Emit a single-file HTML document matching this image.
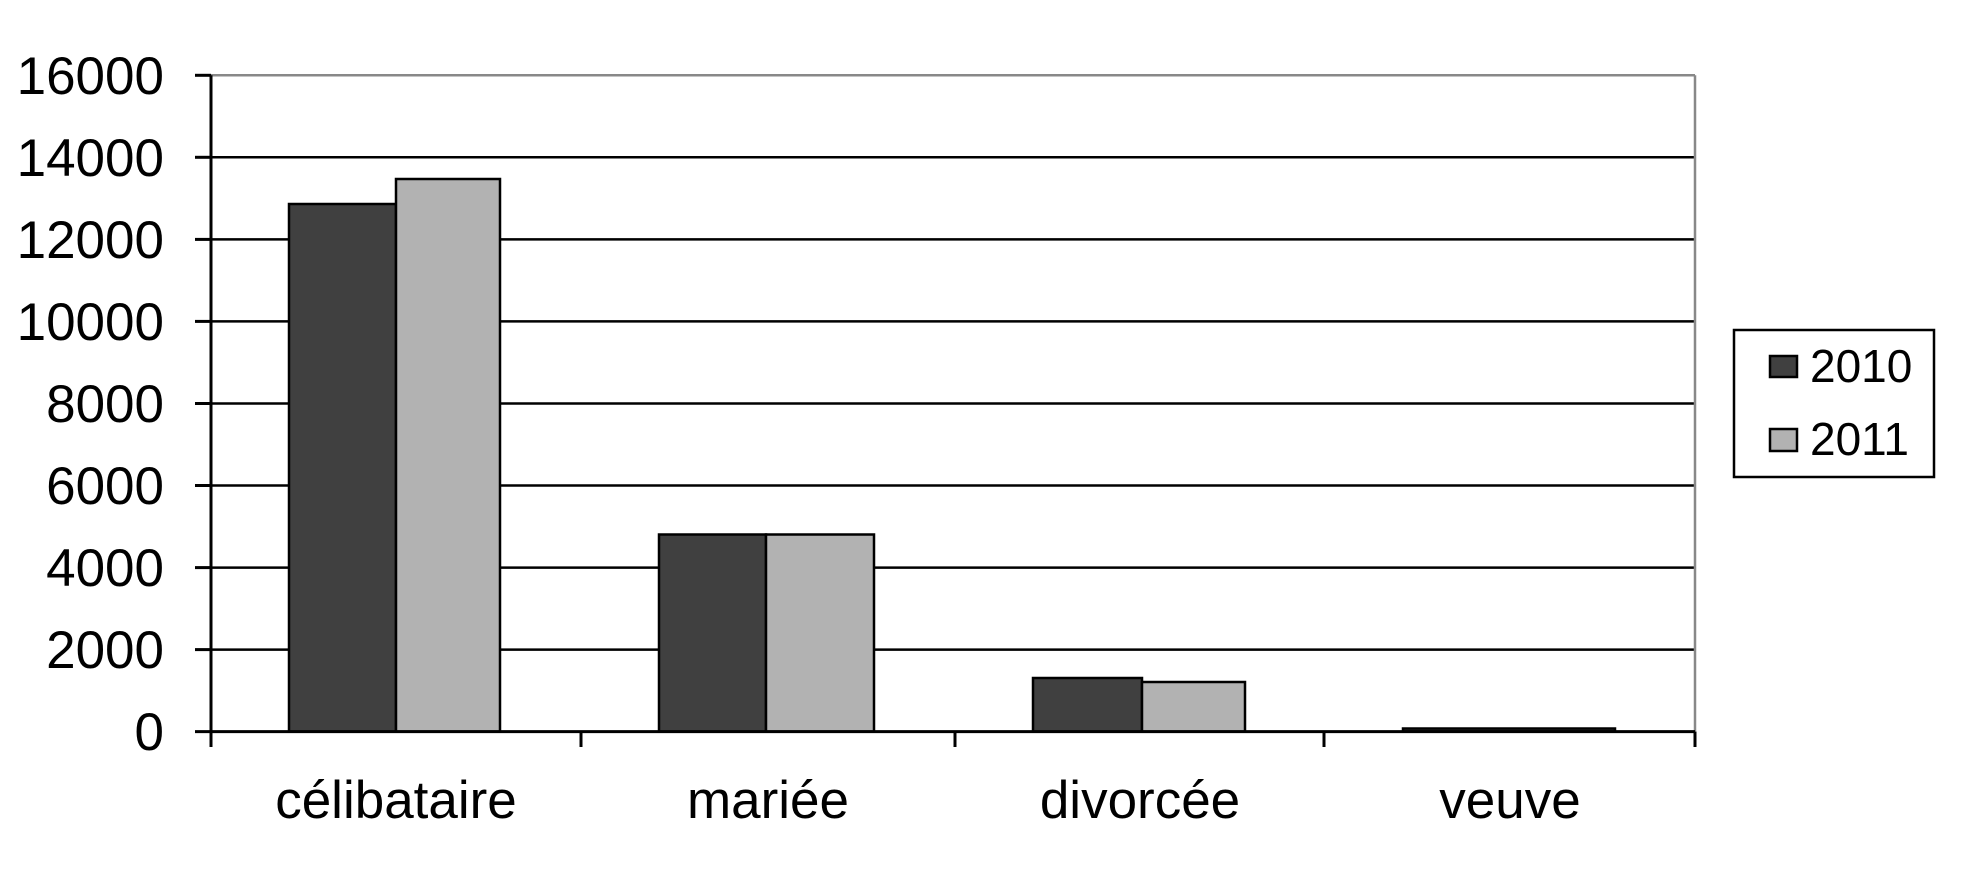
<!DOCTYPE html>
<html><head><style>body{margin:0;background:#fff}svg{display:block}</style></head><body>
<svg width="1962" height="888" xmlns="http://www.w3.org/2000/svg" font-family="Liberation Sans, Arial, sans-serif">
<rect width="1962" height="888" fill="#fff"/>
<g stroke="#000" stroke-width="2.5">
<line x1="211" y1="157.3" x2="1695" y2="157.3"/>
<line x1="211" y1="239.4" x2="1695" y2="239.4"/>
<line x1="211" y1="321.4" x2="1695" y2="321.4"/>
<line x1="211" y1="403.5" x2="1695" y2="403.5"/>
<line x1="211" y1="485.5" x2="1695" y2="485.5"/>
<line x1="211" y1="567.6" x2="1695" y2="567.6"/>
<line x1="211" y1="649.6" x2="1695" y2="649.6"/>
</g>
<line x1="211" y1="75.3" x2="1695" y2="75.3" stroke="#888" stroke-width="2.5"/>
<line x1="1695" y1="75.3" x2="1695" y2="731.6" stroke="#888" stroke-width="2.5"/>
<g stroke="#000" stroke-width="2.5">
<rect x="289" y="204" width="107" height="527.6" fill="#404040"/>
<rect x="396" y="179" width="104" height="552.6" fill="#b2b2b2"/>
<rect x="659" y="534.5" width="107" height="197.1" fill="#404040"/>
<rect x="766" y="534.5" width="108" height="197.1" fill="#b2b2b2"/>
<rect x="1033" y="678" width="109" height="53.6" fill="#404040"/>
<rect x="1142" y="682" width="103" height="49.6" fill="#b2b2b2"/>
<rect x="1403" y="728.5" width="212" height="3" fill="#404040"/>
</g>
<g stroke="#000" stroke-width="3">
<line x1="211" y1="75.3" x2="211" y2="747"/>
<line x1="195" y1="731.6" x2="1695" y2="731.6"/>
<line x1="581" y1="731.6" x2="581" y2="747"/>
<line x1="955" y1="731.6" x2="955" y2="747"/>
<line x1="1324" y1="731.6" x2="1324" y2="747"/>
<line x1="1695" y1="731.6" x2="1695" y2="747"/>
<line x1="195" y1="75.3" x2="211" y2="75.3"/>
<line x1="195" y1="157.3" x2="211" y2="157.3"/>
<line x1="195" y1="239.4" x2="211" y2="239.4"/>
<line x1="195" y1="321.4" x2="211" y2="321.4"/>
<line x1="195" y1="403.5" x2="211" y2="403.5"/>
<line x1="195" y1="485.5" x2="211" y2="485.5"/>
<line x1="195" y1="567.6" x2="211" y2="567.6"/>
<line x1="195" y1="649.6" x2="211" y2="649.6"/>
</g>
<g font-size="53" text-anchor="end" fill="#000">
<text x="164" y="94">16000</text>
<text x="164" y="176">14000</text>
<text x="164" y="258">12000</text>
<text x="164" y="340">10000</text>
<text x="164" y="422">8000</text>
<text x="164" y="504">6000</text>
<text x="164" y="586">4000</text>
<text x="164" y="668">2000</text>
<text x="164" y="750">0</text>
</g>
<g font-size="53" text-anchor="middle" fill="#000">
<text x="396" y="818">célibataire</text>
<text x="768" y="818">mariée</text>
<text x="1140" y="818">divorcée</text>
<text x="1510" y="818">veuve</text>
</g>
<rect x="1734" y="330" width="200" height="147" fill="#fff" stroke="#000" stroke-width="2.5"/>
<rect x="1770" y="356" width="27" height="21" fill="#404040" stroke="#000" stroke-width="2.5"/>
<rect x="1770" y="429" width="27" height="22" fill="#b2b2b2" stroke="#000" stroke-width="2.5"/>
<g font-size="46" fill="#000">
<text x="1810" y="382">2010</text>
<text x="1810" y="455">2011</text>
</g>
</svg>
</body></html>
